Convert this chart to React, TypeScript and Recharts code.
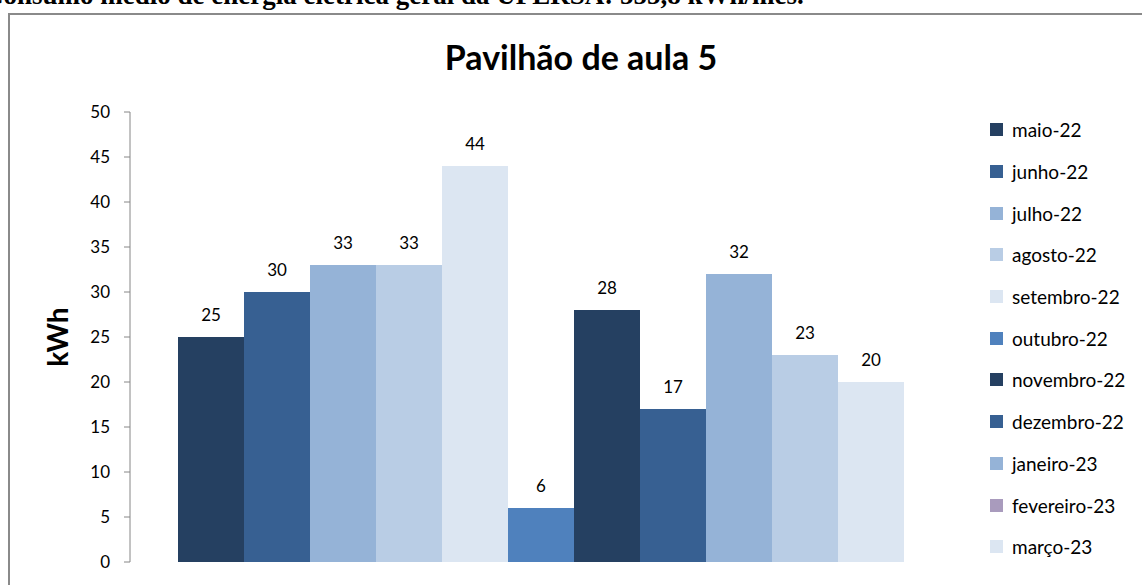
import React from "react";
import { BarChart, Bar, XAxis, YAxis, LabelList } from "recharts";

const seriesNames = [
  "maio-22", "junho-22", "julho-22", "agosto-22", "setembro-22", "outubro-22",
  "novembro-22", "dezembro-22", "janeiro-23", "fevereiro-23", "março-23",
];
const seriesValues = [25, 30, 33, 33, 44, 6, 28, 17, 32, 23, 20];
const barColors = [
  "#254061", "#376092", "#95B3D7", "#B9CDE5", "#DCE6F2", "#4F81BD",
  "#254061", "#376092", "#95B3D7", "#B9CDE5", "#DCE6F2",
];
const legendColors = [
  "#254061", "#376092", "#95B3D7", "#B9CDE5", "#DCE6F2", "#4F81BD",
  "#254061", "#376092", "#95B3D7", "#A99BBD", "#DCE6F2",
];
const yTicks = [0, 5, 10, 15, 20, 25, 30, 35, 40, 45, 50];
const category = "Pavilhão de aula 5";

const row: Record<string, string | number> = { name: category };
seriesNames.forEach((n, i) => {
  row[`s${i}`] = seriesValues[i];
});
const data = [row];

const FONT = "Lato, 'Open Sans', sans-serif";

export default function App() {
  return (
    <div style={{ position: "absolute", left: 0, top: 0, width: 1142, height: 585, overflow: "hidden", background: "#fff" }}>
      <div
        style={{
          position: "absolute", left: -16, top: -18, whiteSpace: "nowrap",
          fontFamily: "'Liberation Serif', 'Times New Roman', serif", fontWeight: "bold", fontSize: 27, lineHeight: "27px",
        }}
      >
        Consumo médio de energia elétrica geral da UFERSA: 555,8 kWh/mês.
      </div>
      <div style={{ position: "absolute", left: 8, top: 13, width: 1200, height: 620, border: "2px solid #8a8a8a", boxSizing: "border-box" }} />
      <div
        style={{
          position: "absolute", left: 0, width: 1142, top: 36, textAlign: "center", paddingLeft: 20, boxSizing: "border-box",
          fontFamily: FONT, fontWeight: "bold", fontSize: 34, lineHeight: "42px",
        }}
      >
        {category}
      </div>
      <div style={{ position: "absolute", left: 990, top: 109, fontFamily: FONT, fontSize: 19, color: "#000" }}>
        {seriesNames.map((n, i) => (
          <div key={n} style={{ display: "flex", alignItems: "center", height: 41.7 }}>
            <span style={{ display: "inline-block", width: 13, height: 13, background: legendColors[i], marginRight: 9, flex: "none" }} />
            <span style={{ whiteSpace: "nowrap" }}>{n}</span>
          </div>
        ))}
      </div>
      <div style={{ position: "absolute", left: 0, top: 0 }}>
        <BarChart
          width={1142}
          height={585}
          data={data}
          margin={{ top: 112, right: 192, bottom: 23, left: 70 }}
          barGap={0}
          barCategoryGap={48}
        >
          <XAxis dataKey="name" hide />
          <YAxis
            domain={[0, 50]}
            ticks={yTicks}
            width={60}
            interval={0}
            axisLine={{ stroke: "#868686" }}
            tickLine={{ stroke: "#868686" }}
            tickSize={6}
            tickMargin={14}
            tick={{ fill: "#000", fontSize: 17, fontFamily: FONT }}
            label={{
              value: "kWh", angle: -90, position: "insideLeft", offset: -12,
              style: { fontFamily: FONT, fontWeight: "bold", fontSize: 28, fill: "#000", textAnchor: "middle" },
            }}
          />
          {seriesNames.map((n, i) => (
            <Bar key={n} dataKey={`s${i}`} name={n} fill={barColors[i]} isAnimationActive={false}>
              <LabelList dataKey={`s${i}`} position="top" offset={16} style={{ fill: "#000", fontSize: 17, fontFamily: FONT }} />
            </Bar>
          ))}
        </BarChart>
      </div>
    </div>
  );
}
